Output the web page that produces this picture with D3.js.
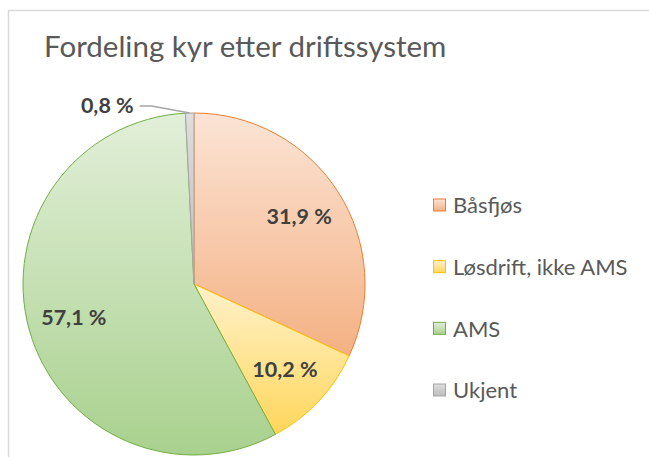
<!DOCTYPE html>
<html>
<head>
<meta charset="utf-8">
<script src="https://cdn.jsdelivr.net/npm/d3@7"></script>
<style>
  html, body { margin: 0; padding: 0; background: #fff; }
  svg { display: block; }
</style>
</head>
<body>
<svg id="chart" width="649" height="457"></svg>
<script>
const title = "Fordeling kyr etter driftssystem";
const categories = ["Båsfjøs", "Løsdrift, ikke AMS", "AMS", "Ukjent"];
const values = [31.9, 10.2, 57.1, 0.8];
const labels = ["31,9 %", "10,2 %", "57,1 %", "0,8 %"];

const fillTop = ["#fbe4d5", "#fff2cc", "#e2efd9", "#dedede"];
const fillBottom = ["#f4b183", "#ffd65a", "#a9d18e", "#bcbcbc"];
const strokes = ["#ed7d31", "#ffc000", "#70ad47", "#a5a5a5"];

const W = 649, H = 457;
const svg = d3.select("#chart");
const font = "Lato, 'Open Sans', sans-serif";

// chart area border
svg.append("rect")
  .attr("x", 8.5).attr("y", 10.5)
  .attr("width", 800).attr("height", 600)
  .attr("fill", "#fff").attr("stroke", "#d9d9d9").attr("stroke-width", 1.5);

// title
svg.append("text")
  .attr("x", 44).attr("y", 57)
  .attr("font-family", font).attr("font-size", 29.5)
  .attr("fill", "#595959")
  .text(title);

const defs = svg.append("defs");
categories.forEach((c, i) => {
  const g = defs.append("linearGradient")
    .attr("id", "grad" + i)
    .attr("x1", 0).attr("y1", 0).attr("x2", 0).attr("y2", 1);
  g.append("stop").attr("offset", "0%").attr("stop-color", fillTop[i]);
  g.append("stop").attr("offset", "100%").attr("stop-color", fillBottom[i]);
});

const cx = 194, cy = 284, R = 171;
const pie = d3.pie().sort(null).value(d => d.v);
const data = pie(values.map((v, i) => ({ v, i })));
const arc = d3.arc().innerRadius(0).outerRadius(R);
const labelArc = d3.arc().innerRadius(R * 0.73).outerRadius(R * 0.73);

const gPie = svg.append("g").attr("transform", `translate(${cx},${cy})`);
gPie.selectAll("path.slice")
  .data(data)
  .join("path")
  .attr("class", "slice")
  .attr("d", arc)
  .attr("fill", d => `url(#grad${d.data.i})`)
  .attr("stroke", d => strokes[d.data.i])
  .attr("stroke-width", 1);

// inside labels
gPie.selectAll("text.lbl")
  .data(data.filter(d => d.data.v >= 5))
  .join("text")
  .attr("class", "lbl")
  .attr("transform", d => `translate(${labelArc.centroid(d)})`)
  .attr("text-anchor", "middle")
  .attr("dy", "0.35em")
  .attr("font-family", font).attr("font-weight", "bold").attr("font-size", 21.5)
  .attr("fill", "#404040")
  .text(d => labels[d.data.i]);

// outside small label with leader line
data.filter(d => d.data.v < 5).forEach(d => {
  const mid = (d.startAngle + d.endAngle) / 2;
  const p0 = [Math.sin(mid) * R, -Math.cos(mid) * R];
  const p1 = [p0[0] - 38, p0[1] - 7];
  const p2 = [p1[0] - 12, p1[1]];
  gPie.append("polyline")
    .attr("points", [p0, p1, p2].map(p => p.join(",")).join(" "))
    .attr("fill", "none").attr("stroke", "#a6a6a6").attr("stroke-width", 1.5);
  gPie.append("text")
    .attr("x", p2[0] - 6).attr("y", p2[1])
    .attr("dy", "0.3em")
    .attr("text-anchor", "end")
    .attr("font-family", font).attr("font-weight", "bold").attr("font-size", 21.5)
    .attr("fill", "#404040")
    .text(labels[d.data.i]);
});

// legend
const legendY = d3.scalePoint().domain(categories).range([205.5, 390.5]);
const lg = svg.append("g");
const items = lg.selectAll("g.item").data(categories).join("g")
  .attr("class", "item")
  .attr("transform", d => `translate(433,${legendY(d)})`);
items.append("rect")
  .attr("x", 0.5).attr("y", -6.5).attr("width", 12).attr("height", 12)
  .attr("fill", (d, i) => `url(#grad${i})`)
  .attr("stroke", (d, i) => strokes[i]).attr("stroke-width", 1);
items.append("text")
  .attr("x", 20).attr("y", 0).attr("dy", "0.36em")
  .attr("font-family", font).attr("font-size", 22)
  .attr("fill", "#595959")
  .text(d => d);
</script>
</body>
</html>
